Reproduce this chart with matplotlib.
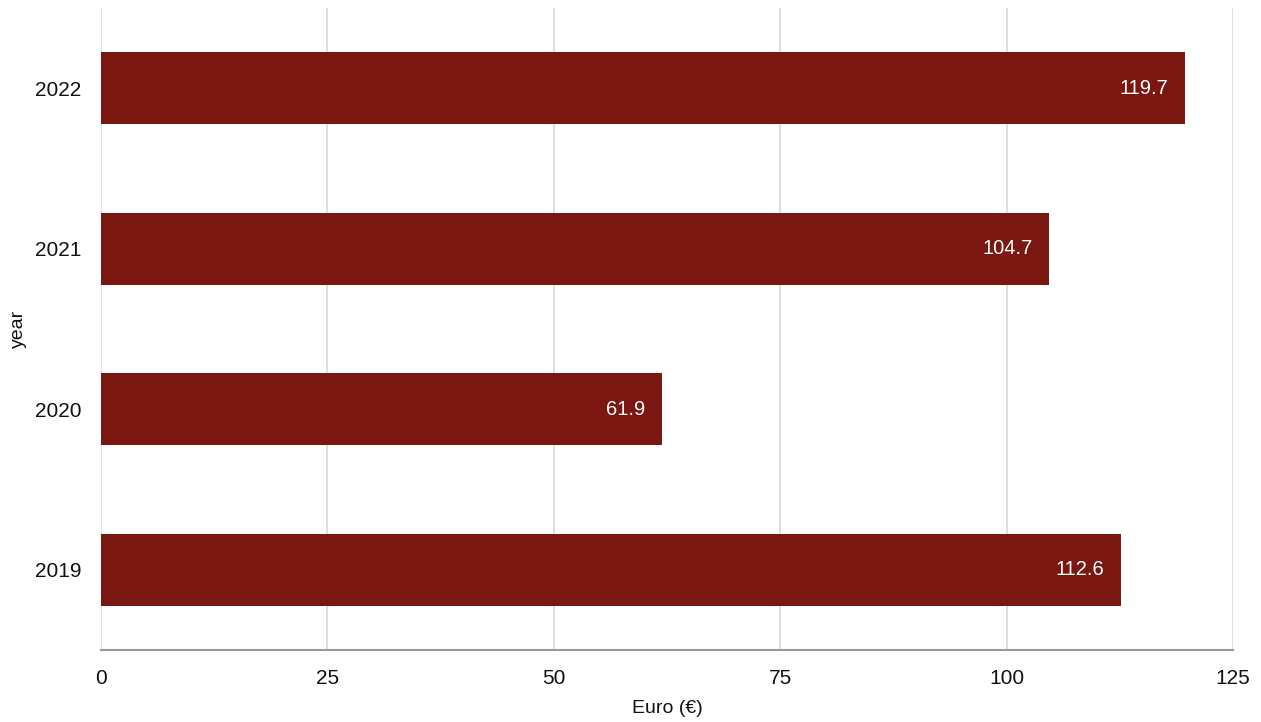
import matplotlib.pyplot as plt

# --- data ---
years = ["2019", "2020", "2021", "2022"]
values = [112.6, 61.9, 104.7, 119.7]
xticks = [0, 25, 50, 75, 100, 125]

bar_color = "#7b1711"
grid_color = "#d9d9d9"

plt.rcParams['font.family'] = ['Liberation Sans', 'DejaVu Sans']

fig = plt.figure(figsize=(12.61, 7.22), dpi=100)
ax = fig.add_axes([101/1261, 72/722, (1233-101)/1261, (650-8)/722])

pos = range(len(years))
ax.barh(pos, values, height=0.45, color=bar_color, zorder=3)

# value labels inside the bar end
for y, v in zip(pos, values):
    ax.annotate(f"{v:.1f}", xy=(v, y), xytext=(-12, 0), textcoords="offset points",
                ha="right", va="center", color="white", fontsize=14.5, zorder=4)

ax.set_xlim(0, 125)
ax.set_ylim(-0.5, len(years) - 0.5)
ax.set_xticks(xticks)
ax.set_xticklabels([str(t) for t in xticks])
ax.set_yticks(list(pos))
ax.set_yticklabels(years)

ax.grid(axis="x", color=grid_color, linewidth=1.2, zorder=0)
ax.tick_params(axis="both", length=0, labelsize=15, colors="#111111")
ax.tick_params(axis="x", pad=14)
ax.tick_params(axis="y", pad=14)

for side in ["top", "right", "left"]:
    ax.spines[side].set_visible(False)
ax.spines["bottom"].set_color("#999999")
ax.spines["bottom"].set_linewidth(1.5)
ax.spines["bottom"].set_zorder(5)

ax.set_xlabel("Euro (€)", fontsize=14, color="#111111", labelpad=8)
ax.set_ylabel("year", fontsize=14, color="#111111", labelpad=6)

fig.savefig("out.png", dpi=100)
